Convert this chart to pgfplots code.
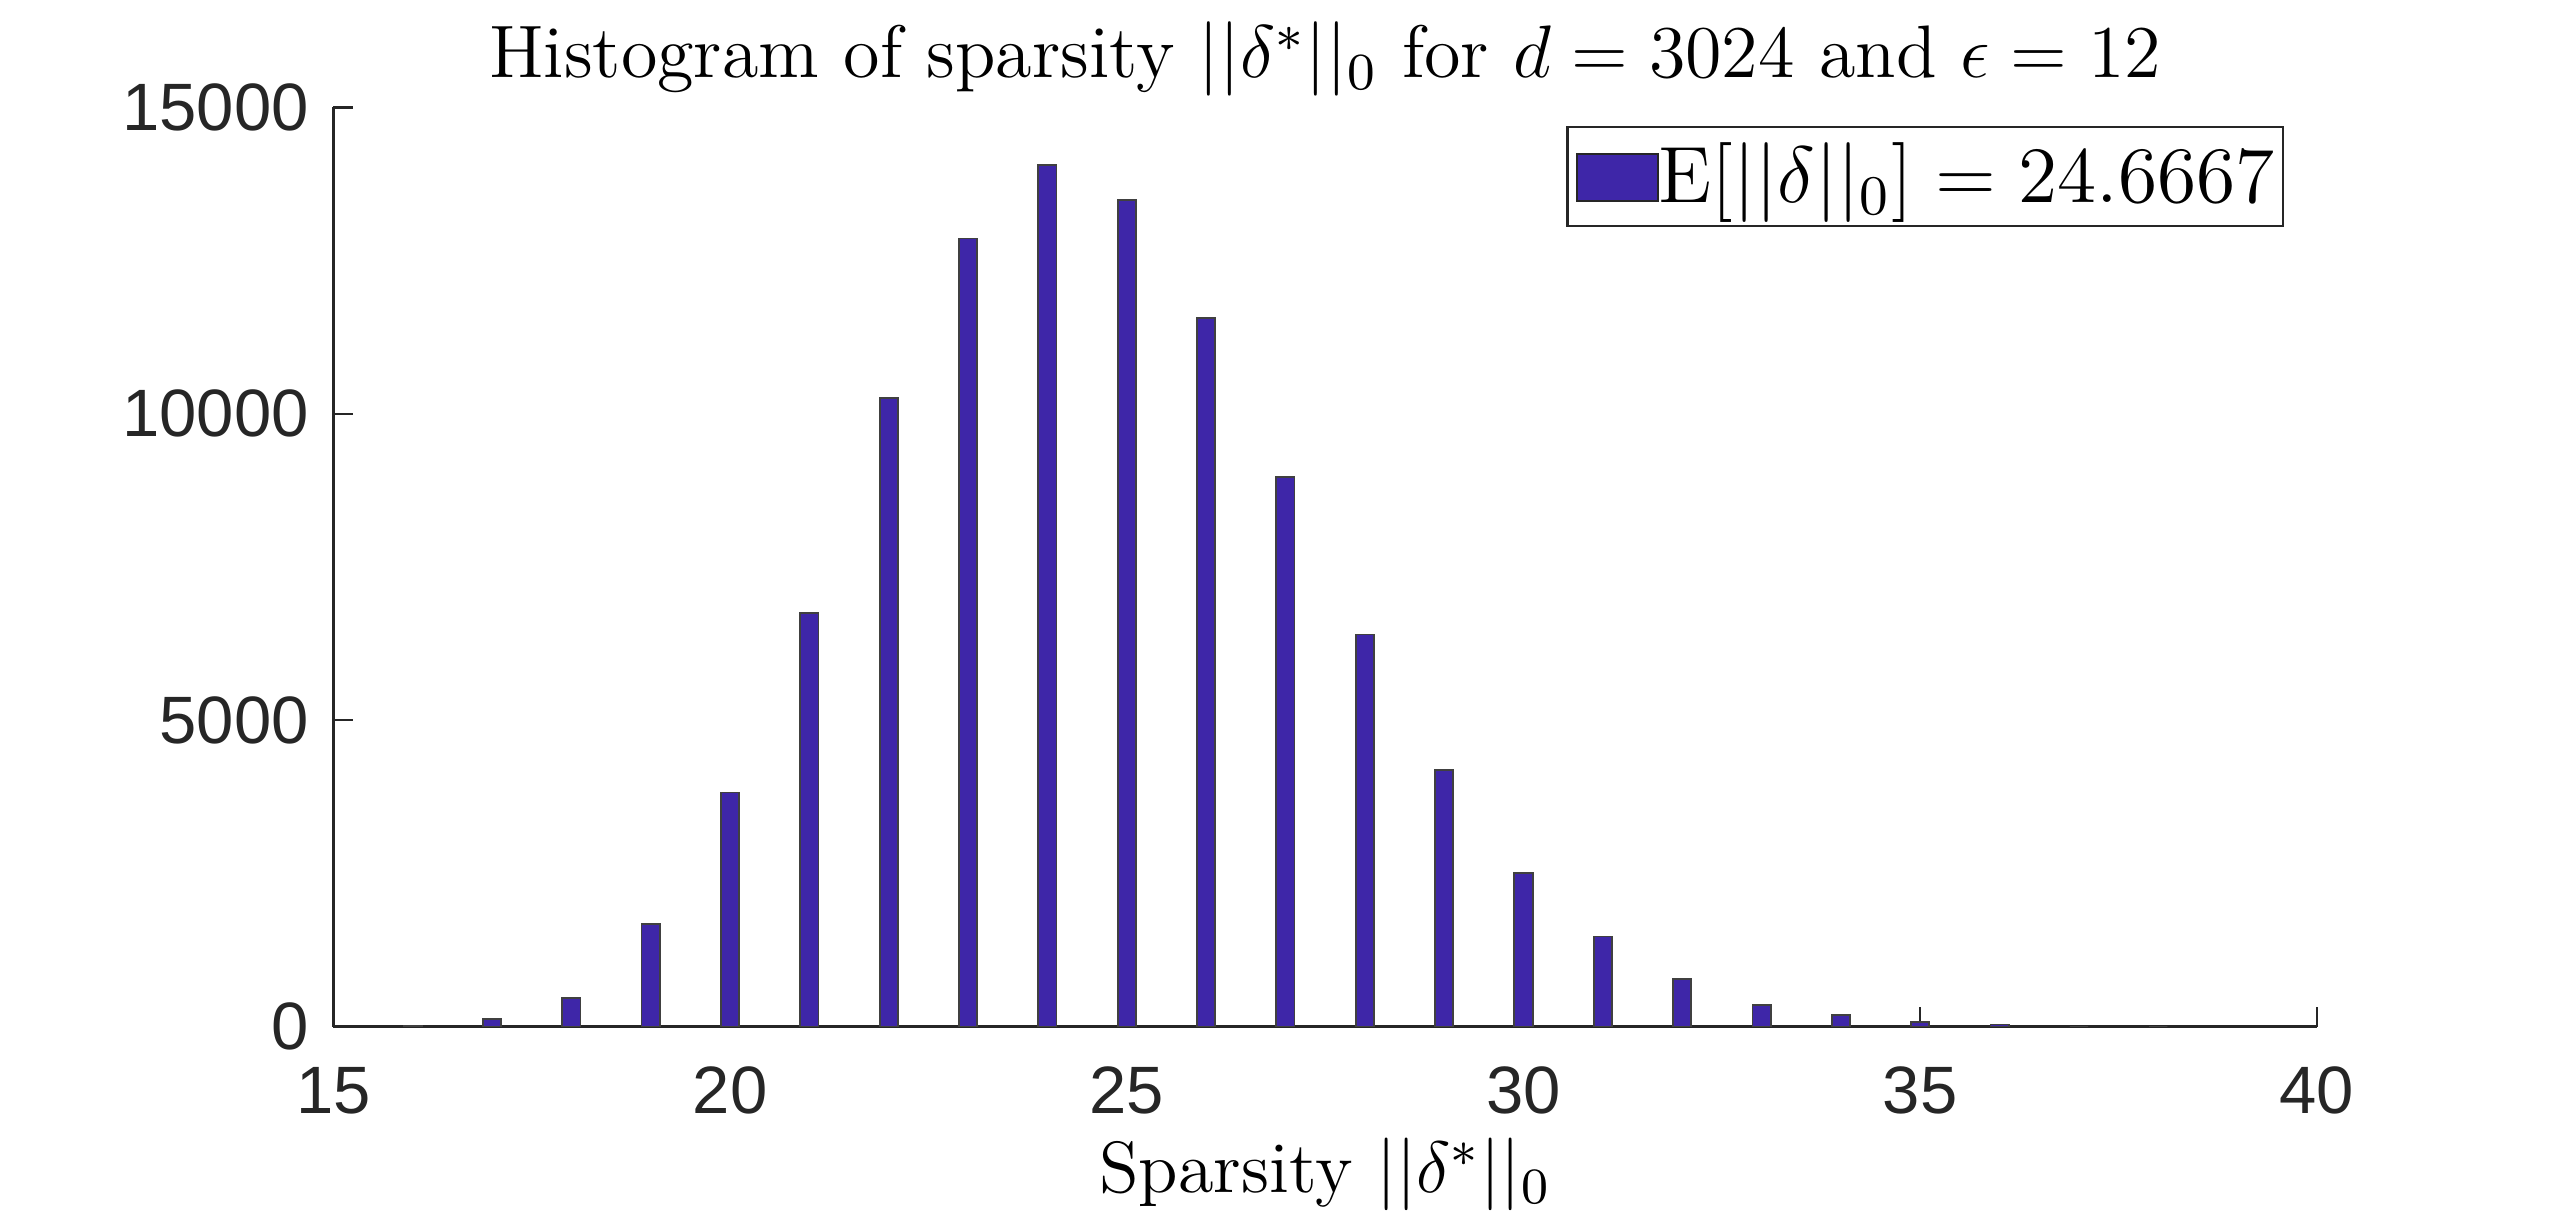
\RequirePackage{fix-cm}
\documentclass[border=0pt]{standalone}
\usepackage{fontspec}
\usepackage{pgfplots}
\pgfplotsset{compat=1.18}
\newfontfamily\ticksans{Liberation Sans}
\definecolor{parula}{rgb}{0.2422,0.1504,0.6603}
\definecolor{axgray}{rgb}{0.15,0.15,0.15}
\begin{document}
\begin{tikzpicture}
\path[use as bounding box] (-55.55pt,-32.2pt) rectangle (371.1pt,171.1pt);
\begin{axis}[
  at={(0pt,0pt)}, anchor=south west,
  scale only axis, width=330.6pt, height=153.2pt,
  xmin=15, xmax=40, ymin=0, ymax=15000,
  axis x line*=bottom, axis y line*=left,
  axis line style={axgray, line width=0.4pt},
  xtick={15,20,...,40}, ytick={0,5000,10000,15000},
  tick align=inside, major tick length=3.33pt,
  tick style={axgray, line width=0.4pt},
  minor tick num=0,
  scaled ticks=false,
  /pgf/number format/1000 sep={},
  /pgf/number format/assume math mode=true,
  ticklabel style={font=\ticksans\fontsize{11.17}{13}\selectfont, text=axgray},
  xticklabel style={anchor=base, inner sep=0pt, yshift=-14.55pt},
  yticklabel style={anchor=east, inner sep=0pt, xshift=-3.9pt},
  title={Histogram of sparsity $||\delta^*||_0$ for $d = 3024$ and $\epsilon = 12$},
  title style={at={(axis description cs:0.5,1)}, anchor=base, yshift=-1.1pt, inner sep=0pt, font=\fontsize{12.4}{14}\selectfont},
  xlabel={Sparsity $||\delta^*||_0$},
  xlabel style={at={(axis description cs:0.5,0)}, anchor=base, yshift=-27.7pt, inner sep=0pt, font=\fontsize{12.1}{14}\selectfont},
  legend cell align=left,
  legend style={at={(axis description cs:1,1)}, anchor=north east, xshift=-5.5pt, yshift=-3.1pt,
    draw=axgray, line width=0.4pt, inner xsep=1.4pt, inner ysep=2.5pt,
    font=\fontsize{13.3}{15}\selectfont,
    nodes={inner sep=0pt},
    /tikz/every even column/.append style={column sep=1.3pt}},
]
\addplot[ybar, bar width=0.23, fill=parula, draw=black!75, line width=0.3pt,
  legend image code/.code={\fill[parula, draw=axgray, line width=0.3pt] (0pt,-4.0pt) rectangle (13.5pt,3.8pt);}]
  coordinates {
  (16,10) (17,120) (18,470) (19,1680) (20,3820) (21,6750) (22,10260)
  (23,12860) (24,14060) (25,13490) (26,11560) (27,8970) (28,6400)
  (29,4190) (30,2510) (31,1470) (32,775) (33,352) (34,185) (35,82)
  (36,35) (37,0) (38,0)
  };
\addlegendentry{E$[||\delta||_0] = 24.6667$}
\end{axis}
\end{tikzpicture}
\end{document}
